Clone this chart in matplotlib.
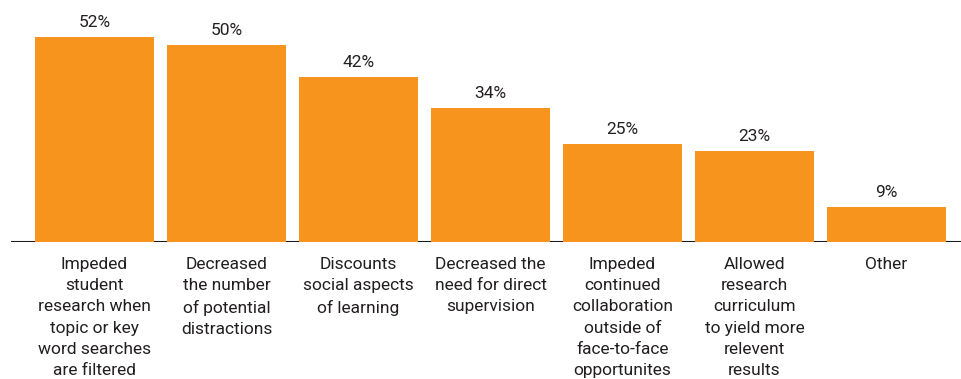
import matplotlib.pyplot as plt

categories = [
    "Impeded\nstudent\nresearch when\ntopic or key\nword searches\nare filtered",
    "Decreased\nthe number\nof potential\ndistractions",
    "Discounts\nsocial aspects\nof learning",
    "Decreased the\nneed for direct\nsupervision",
    "Impeded\ncontinued\ncollaboration\noutside of\nface-to-face\nopportunites",
    "Allowed\nresearch\ncurriculum\nto yield more\nrelevent\nresults",
    "Other",
]
percentages = [52, 50, 42, 34, 25, 23, 9]

BAR_COLOR = "#F7941E"
TEXT_COLOR = "#231F20"

plt.rcParams["font.family"] = ["Roboto", "DejaVu Sans"]

fig = plt.figure(figsize=(9.62, 3.79), dpi=100)
# axes placed in pixel terms: baseline 137 px from bottom, left edge at 11 px
ax = fig.add_axes([11 / 962, 137 / 379, 951 / 962, 236 / 379])

x = list(range(len(categories)))
ax.bar(x, percentages, width=0.9, color=BAR_COLOR, zorder=2)
ax.axhline(0, color="#1a1a1a", linewidth=2.2, zorder=1)

for xi, v in zip(x, percentages):
    ax.annotate(f"{v}%", (xi, v), xytext=(0, 5), textcoords="offset points",
                ha="center", va="bottom", fontsize=12.5, color=TEXT_COLOR)

ax.set_xlim(-0.633, 6.572)
ax.set_ylim(0, 59.9)
ax.set_xticks(x)
ax.set_xticklabels(categories, fontsize=12.5, color=TEXT_COLOR, linespacing=1.53)
ax.tick_params(axis="x", length=0, pad=10.5)
ax.set_yticks([])
for s in ax.spines.values():
    s.set_visible(False)

fig.savefig("out.png", dpi=100)
